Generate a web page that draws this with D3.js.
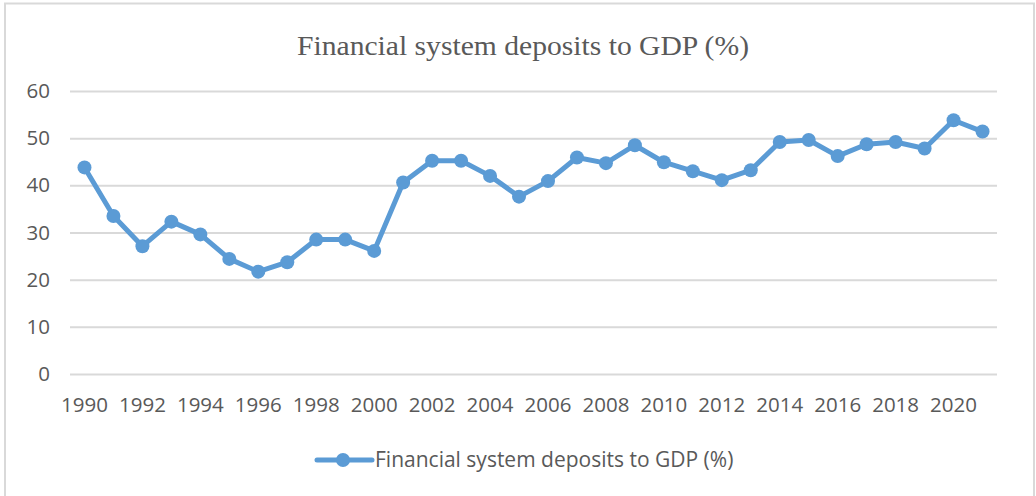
<!DOCTYPE html>
<html>
<head>
<meta charset="utf-8">
<script src="https://cdn.jsdelivr.net/npm/d3@7"></script>
<style>
  html, body { margin: 0; padding: 0; background: #ffffff; }
  svg { display: block; }
</style>
</head>
<body>
<svg id="chart" width="1036" height="496"></svg>
<script>
// Financial system deposits to GDP (%), 1990–2021
const years = [1990, 1991, 1992, 1993, 1994, 1995, 1996, 1997, 1998, 1999,
               2000, 2001, 2002, 2003, 2004, 2005, 2006, 2007, 2008, 2009,
               2010, 2011, 2012, 2013, 2014, 2015, 2016, 2017, 2018, 2019,
               2020, 2021];
const depositsToGdp = [43.8, 33.5, 27.1, 32.3, 29.6, 24.4, 21.7, 23.7, 28.5, 28.5,
                       26.1, 40.6, 45.2, 45.2, 42.0, 37.6, 40.9, 45.9, 44.7, 48.5,
                       44.9, 43.0, 41.1, 43.2, 49.2, 49.6, 46.2, 48.7, 49.2, 47.8,
                       53.8, 51.4];
const yTicks = [0, 10, 20, 30, 40, 50, 60];
const seriesName = "Financial system deposits to GDP (%)";

const svg = d3.select("#chart");
const plot = { left: 70, right: 997, top: 91, bottom: 374 };
const blue = "#5B9BD5";
const textGray = "#595959";
const sans = "'Open Sans', 'Noto Sans', sans-serif";

// outer chart frame
svg.append("rect")
  .attr("x", 5).attr("y", 3.5)
  .attr("width", 1029).attr("height", 500)
  .attr("fill", "#fff")
  .attr("stroke", "#d9d9d9").attr("stroke-width", 2);

// title
svg.append("text")
  .attr("x", 523).attr("y", 55)
  .attr("text-anchor", "middle")
  .attr("font-family", "'Liberation Serif', 'Times New Roman', serif")
  .attr("font-size", 28)
  .attr("textLength", 452)
  .attr("lengthAdjust", "spacingAndGlyphs")
  .attr("fill", textGray)
  .text(seriesName);

const x = d3.scaleBand()
  .domain(years)
  .range([plot.left, plot.right])
  .paddingInner(0).paddingOuter(0);

const y = d3.scaleLinear()
  .domain([0, 60])
  .range([plot.bottom, plot.top]);

// horizontal gridlines + y labels
const yAxis = d3.axisLeft(y)
  .tickValues(yTicks)
  .tickSize(-(plot.right - plot.left))
  .tickPadding(20);
const gy = svg.append("g")
  .attr("transform", `translate(${plot.left},0)`)
  .call(yAxis);
gy.select(".domain").remove();
gy.selectAll(".tick line").attr("stroke", "#d9d9d9").attr("stroke-width", 2);
gy.selectAll(".tick text")
  .attr("font-family", sans).attr("font-size", 20.5)
  .attr("fill", textGray);

// x labels, every second year
const xAxis = d3.axisBottom(x)
  .tickValues(years.filter((d, i) => i % 2 === 0))
  .tickSize(0)
  .tickPadding(23);
const gx = svg.append("g")
  .attr("transform", `translate(0,${plot.bottom})`)
  .call(xAxis);
gx.select(".domain").remove();
gx.selectAll(".tick text")
  .attr("font-family", sans).attr("font-size", 20.5)
  .attr("fill", textGray);

// series line
const cx = d => x(d) + x.bandwidth() / 2;
const line = d3.line()
  .x((d, i) => cx(years[i]))
  .y(d => y(d));
svg.append("path")
  .datum(depositsToGdp)
  .attr("d", line)
  .attr("fill", "none")
  .attr("stroke", blue)
  .attr("stroke-width", 5)
  .attr("stroke-linejoin", "round");

svg.append("g").selectAll("circle")
  .data(depositsToGdp)
  .join("circle")
  .attr("cx", (d, i) => cx(years[i]))
  .attr("cy", d => y(d))
  .attr("r", 7)
  .attr("fill", blue);

// legend
const lg = svg.append("g");
lg.append("line")
  .attr("x1", 317).attr("x2", 372)
  .attr("y1", 460).attr("y2", 460)
  .attr("stroke", blue).attr("stroke-width", 5)
  .attr("stroke-linecap", "round");
lg.append("circle")
  .attr("cx", 343).attr("cy", 460).attr("r", 7)
  .attr("fill", blue);
lg.append("text")
  .attr("x", 375).attr("y", 460)
  .attr("dy", "0.35em")
  .attr("font-family", sans).attr("font-size", 21)
  .attr("fill", textGray)
  .text(seriesName);
</script>
</body>
</html>
